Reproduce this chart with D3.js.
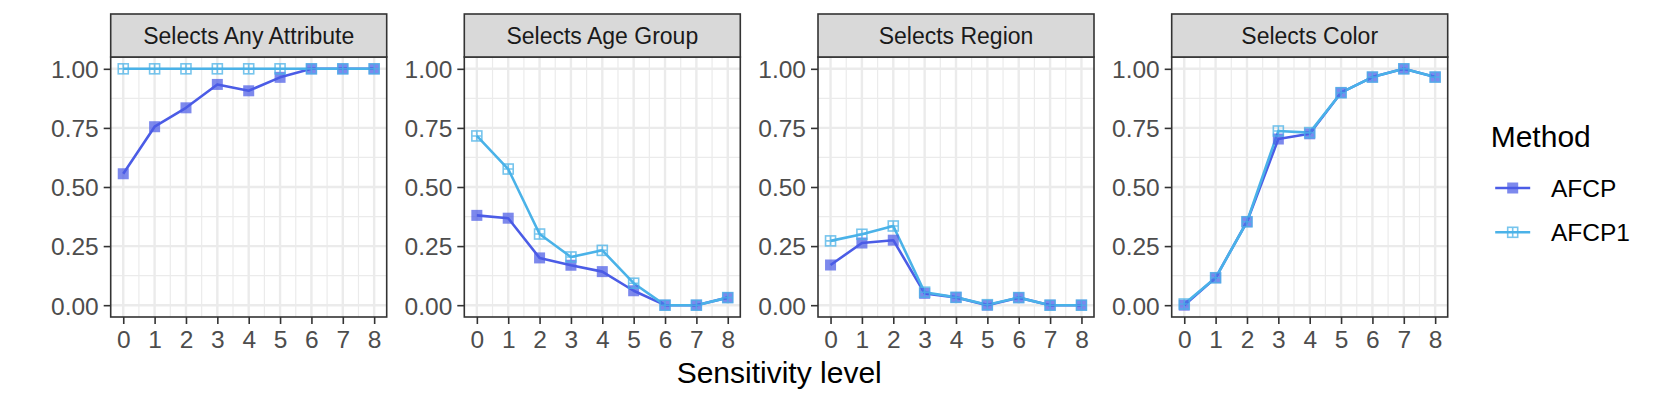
<!DOCTYPE html>
<html>
<head>
<meta charset="utf-8">
<script src="https://cdn.jsdelivr.net/npm/d3@7"></script>
<style>
  body { margin: 0; background: #fff; }
  svg { font-family: "Liberation Sans", Arial, sans-serif; }
</style>
</head>
<body>
<div id="chart"></div>
<script>
// sensitivity levels on the x axis
const levels = [0, 1, 2, 3, 4, 5, 6, 7, 8];
const yTicks = [0, 0.25, 0.5, 0.75, 1];
const methods = ["AFCP", "AFCP1"];
const facetTitles = ["Selects Any Attribute", "Selects Age Group", "Selects Region", "Selects Color"];

// values, one array per facet and method
const afcpAny = [0.556, 0.755, 0.835, 0.934, 0.907, 0.964, 1, 1, 1];
const afcp1Any = [1, 1, 1, 1, 1, 1, 1, 1, 1];
const afcpAge = [0.38, 0.368, 0.2, 0.169, 0.142, 0.061, 0, 0, 0.032];
const afcp1Age = [0.716, 0.576, 0.301, 0.204, 0.232, 0.093, 0, 0, 0.032];
const afcpRegion = [0.17, 0.263, 0.275, 0.05, 0.033, 0, 0.032, 0, 0];
const afcp1Region = [0.272, 0.3, 0.335, 0.055, 0.033, 0.002, 0.032, 0, 0];
const afcpColor = [0, 0.116, 0.353, 0.703, 0.725, 0.899, 0.965, 1, 0.965];
const afcp1Color = [0.005, 0.116, 0.353, 0.737, 0.73, 0.899, 0.965, 1, 0.965];

const facets = [
  { title: facetTitles[0], AFCP: afcpAny, AFCP1: afcp1Any },
  { title: facetTitles[1], AFCP: afcpAge, AFCP1: afcp1Age },
  { title: facetTitles[2], AFCP: afcpRegion, AFCP1: afcp1Region },
  { title: facetTitles[3], AFCP: afcpColor, AFCP1: afcp1Color }
];

const W = 1661, H = 405;
const panelW = 276, panelH = 260;
const panelTop = 57, stripH = 43;
const panelLefts = [110.7, 464.3, 818, 1171.7];

const color = d3.scaleOrdinal()
  .domain(methods)
  .range(["#4B5CE6", "#4AB2E8"]);

const svg = d3.select("#chart")
  .append("svg")
  .attr("width", W)
  .attr("height", H);

const x = d3.scaleLinear().domain([-0.4, 8.4]).range([0, panelW]);
const y = d3.scaleLinear().domain([-0.05, 1.05]).range([panelH, 0]);

const line = d3.line()
  .x((d, i) => x(levels[i]))
  .y(d => y(d));

// open square with a plus inside (ggplot shape 12)
function squarePlus(g, cx, cy, s, col) {
  g.append("rect")
    .attr("x", cx - s / 2).attr("y", cy - s / 2)
    .attr("width", s).attr("height", s)
    .attr("fill", "none")
    .attr("stroke", col)
    .attr("stroke-width", 1.6);
  g.append("path")
    .attr("d", `M${cx - s / 2},${cy}H${cx + s / 2}M${cx},${cy - s / 2}V${cy + s / 2}`)
    .attr("stroke", col)
    .attr("stroke-width", 1.6);
}

facets.forEach((f, k) => {
  const g = svg.append("g")
    .attr("transform", `translate(${panelLefts[k]},${panelTop})`);

  g.append("rect")
    .attr("width", panelW).attr("height", panelH)
    .attr("fill", "#fff");

  // minor grid
  const yMinor = yTicks.slice(0, -1).map((t, i) => (t + yTicks[i + 1]) / 2);
  const xMinor = levels.slice(0, -1).map(l => l + 0.5);
  g.selectAll(".ymin").data(yMinor).enter().append("line")
    .attr("x1", 0).attr("x2", panelW)
    .attr("y1", d => y(d)).attr("y2", d => y(d))
    .attr("stroke", "#EBEBEB").attr("stroke-width", 1.2);
  g.selectAll(".xmin").data(xMinor).enter().append("line")
    .attr("y1", 0).attr("y2", panelH)
    .attr("x1", d => x(d)).attr("x2", d => x(d))
    .attr("stroke", "#EBEBEB").attr("stroke-width", 1.2);

  // major grid
  g.selectAll(".ymaj").data(yTicks).enter().append("line")
    .attr("x1", 0).attr("x2", panelW)
    .attr("y1", d => y(d)).attr("y2", d => y(d))
    .attr("stroke", "#EBEBEB").attr("stroke-width", 2.4);
  g.selectAll(".xmaj").data(levels).enter().append("line")
    .attr("y1", 0).attr("y2", panelH)
    .attr("x1", d => x(d)).attr("x2", d => x(d))
    .attr("stroke", "#EBEBEB").attr("stroke-width", 2.4);

  // lines, then points (AFCP first, AFCP1 on top)
  methods.forEach(m => {
    g.append("path")
      .datum(f[m])
      .attr("fill", "none")
      .attr("stroke", color(m))
      .attr("stroke-width", 2.6)
      .attr("stroke-linejoin", "round")
      .attr("d", line);
  });

  g.selectAll(".pt-afcp").data(f.AFCP).enter().append("rect")
    .attr("x", (d, i) => x(levels[i]) - 5.5)
    .attr("y", d => y(d) - 5.5)
    .attr("width", 11).attr("height", 11)
    .attr("fill", color("AFCP"))
    .attr("opacity", 0.72);

  const open = g.append("g").attr("opacity", 0.75);
  f.AFCP1.forEach((d, i) => squarePlus(open, x(levels[i]), y(d), 10, color("AFCP1")));

  // panel border
  g.append("rect")
    .attr("width", panelW).attr("height", panelH)
    .attr("fill", "none")
    .attr("stroke", "#333")
    .attr("stroke-width", 1.6);

  // strip
  svg.append("rect")
    .attr("x", panelLefts[k]).attr("y", panelTop - stripH)
    .attr("width", panelW).attr("height", stripH)
    .attr("fill", "#D9D9D9")
    .attr("stroke", "#333")
    .attr("stroke-width", 1.6);
  svg.append("text")
    .attr("x", panelLefts[k] + panelW / 2)
    .attr("y", panelTop - stripH / 2 + 8.3)
    .attr("text-anchor", "middle")
    .attr("fill", "#1A1A1A")
    .style("font-size", "23px")
    .text(f.title);

  // y axis
  const ya = g.append("g")
    .call(d3.axisLeft(y).tickValues(yTicks).tickFormat(d3.format(".2f")).tickSize(7).tickPadding(5));
  ya.select(".domain").remove();
  ya.selectAll(".tick line").attr("stroke", "#333").attr("stroke-width", 1.6);
  ya.selectAll(".tick text")
    .attr("fill", "#4D4D4D")
    .style("font-size", "24.5px")
    .style("font-family", "Liberation Sans, Arial, sans-serif")
    .attr("dy", "0.36em");

  // x axis
  const xa = g.append("g")
    .attr("transform", `translate(0,${panelH})`)
    .call(d3.axisBottom(x).tickValues(levels).tickSize(7).tickPadding(6));
  xa.select(".domain").remove();
  xa.selectAll(".tick line").attr("stroke", "#333").attr("stroke-width", 1.6);
  xa.selectAll(".tick text")
    .attr("fill", "#4D4D4D")
    .style("font-size", "24.5px")
    .style("font-family", "Liberation Sans, Arial, sans-serif")
    .attr("dy", "0.72em");
});

// x axis title
svg.append("text")
  .attr("x", (panelLefts[0] + panelLefts[3] + panelW) / 2)
  .attr("y", 383)
  .attr("text-anchor", "middle")
  .attr("fill", "#000")
  .style("font-size", "30px")
  .text("Sensitivity level");

// legend
const legend = svg.append("g").attr("transform", "translate(1490.7,0)");
legend.append("text")
  .attr("x", 0).attr("y", 146.7)
  .style("font-size", "30px")
  .attr("fill", "#000")
  .text("Method");

const keyY = [188, 232.3];
methods.forEach((m, i) => {
  legend.append("line")
    .attr("x1", 4.5).attr("x2", 39.5)
    .attr("y1", keyY[i]).attr("y2", keyY[i])
    .attr("stroke", color(m))
    .attr("stroke-width", 2.6);
  if (m === "AFCP") {
    legend.append("rect")
      .attr("x", 22 - 5.5).attr("y", keyY[i] - 5.5)
      .attr("width", 11).attr("height", 11)
      .attr("fill", color(m))
      .attr("opacity", 0.72);
  } else {
    const og = legend.append("g").attr("opacity", 0.75);
    squarePlus(og, 22, keyY[i], 10, color(m));
  }
  legend.append("text")
    .attr("x", 60.3).attr("y", keyY[i] + 8.8)
    .style("font-size", "24.5px")
    .attr("fill", "#000")
    .text(m);
});
</script>
</body>
</html>
